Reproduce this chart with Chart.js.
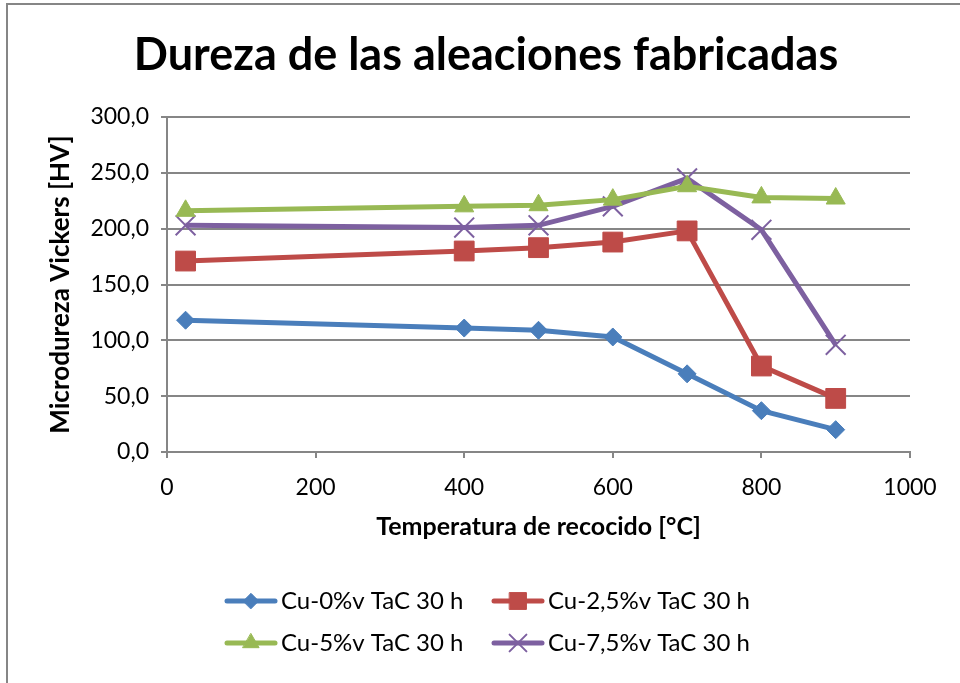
<!DOCTYPE html>
<html>
<head>
<meta charset="utf-8">
<script src="https://cdn.jsdelivr.net/npm/chart.js@4/dist/chart.umd.min.js"></script>
<style>
  html, body { margin: 0; padding: 0; background: #fff; }
  #wrap { width: 960px; height: 683px; position: relative; }
</style>
</head>
<body>
<div id="wrap"><canvas id="c"></canvas></div>
<script>
// Annealing temperatures [°C] and Vickers microhardness [HV] per alloy
const temps = [25, 400, 500, 600, 700, 800, 900];
const cu0   = [118, 111, 109, 103, 70, 37, 20];
const cu25  = [171, 180, 183, 188, 198, 77, 48];
const cu5   = [216, 220, 221, 226, 238, 228, 227];
const cu75  = [203, 201, 203, 220, 245, 199, 96];

const seriesNames = ['Cu-0%v TaC 30 h', 'Cu-2,5%v TaC 30 h', 'Cu-5%v TaC 30 h', 'Cu-7,5%v TaC 30 h'];
const xTicks = [0, 200, 400, 600, 800, 1000];
const yTicks = [0, 50, 100, 150, 200, 250, 300];

const FONT = 'Lato, "Open Sans", sans-serif';
const GRID = '#868686';

const styles = [
  { color: '#4A7EBB', pointStyle: 'rectRot',  radius: 9,  pw: 1 },
  { color: '#BE4B48', pointStyle: 'rect',     radius: 14, pw: 1 },
  { color: '#98B954', pointStyle: 'triangle', radius: 11, pw: 1 },
  { color: '#7D60A0', pointStyle: 'crossRot', radius: 14, pw: 2 }
];

const values = [cu0, cu25, cu5, cu75];
const datasets = values.map((vals, i) => ({
  label: seriesNames[i],
  data: temps.map((t, k) => ({ x: t, y: vals[k] })),
  showLine: true,
  borderColor: styles[i].color,
  backgroundColor: styles[i].color,
  borderWidth: 5,
  pointStyle: styles[i].pointStyle,
  pointRadius: styles[i].radius,
  pointHoverRadius: styles[i].radius,
  pointBorderWidth: styles[i].pw,
  pointBackgroundColor: styles[i].color,
  pointBorderColor: styles[i].color,
  tension: 0
}));

// Title, frame and two-row legend drawn on the canvas
const decor = {
  id: 'decor',
  afterDraw(chart) {
    const ctx = chart.ctx;
    ctx.save();
    // frame
    ctx.strokeStyle = GRID;
    ctx.lineWidth = 2;
    ctx.strokeRect(7, 4, 1000, 1000);
    // title
    ctx.fillStyle = '#000';
    ctx.font = 'bold 45px ' + FONT;
    ctx.textAlign = 'center';
    ctx.textBaseline = 'middle';
    ctx.fillText('Dureza de las aleaciones fabricadas', 486, 55);
    // legend
    const cols = [227, 494];
    const rows = [601, 643];
    ctx.font = '24px ' + FONT;
    ctx.textAlign = 'left';
    seriesNames.forEach((name, i) => {
      const x0 = cols[i % 2];
      const y = rows[Math.floor(i / 2)];
      const st = styles[i];
      ctx.strokeStyle = st.color;
      ctx.lineWidth = 5;
      ctx.lineCap = 'round';
      ctx.beginPath();
      ctx.moveTo(x0, y);
      ctx.lineTo(x0 + 48, y);
      ctx.stroke();
      ctx.fillStyle = st.color;
      ctx.strokeStyle = st.color;
      ctx.lineWidth = st.pw;
      Chart.helpers.drawPoint(ctx, { pointStyle: st.pointStyle, radius: st.radius * 0.85, borderWidth: st.pw, rotation: 0 }, x0 + 24, y);
      ctx.fillStyle = '#000';
      ctx.fillText(name, x0 + 54, y);
    });
    ctx.restore();
  }
};

new Chart(document.getElementById('c'), {
  type: 'scatter',
  data: { datasets },
  plugins: [decor],
  options: {
    responsive: true,
    maintainAspectRatio: false,
    animation: false,
    layout: { padding: { top: 117, left: 10, right: 50, bottom: 121 } },
    plugins: {
      legend: { display: false },
      title: { display: false },
      tooltip: { enabled: false }
    },
    scales: {
      x: {
        type: 'linear',
        min: 0, max: 1000,
        afterBuildTicks(scale) { scale.ticks = xTicks.map(v => ({ value: v })); },
        afterFit(scale) { scale.height = 110; },
        border: { color: GRID, width: 2 },
        grid: { drawOnChartArea: false, drawTicks: true, tickLength: 6, color: GRID, lineWidth: 2 },
        ticks: { color: '#000', font: { family: FONT, size: 23 }, padding: 16, maxRotation: 0,
                 callback: v => String(v) },
        title: { display: true, text: 'Temperatura de recocido [°C]', color: '#000',
                 font: { family: FONT, size: 25, weight: 'bold' }, padding: { top: 0, bottom: 20 } }
      },
      y: {
        type: 'linear',
        min: 0, max: 300,
        afterBuildTicks(scale) { scale.ticks = yTicks.map(v => ({ value: v })); },
        afterFit(scale) { scale.width = 157; },
        border: { color: GRID, width: 2 },
        grid: { color: GRID, lineWidth: 2, drawTicks: true, tickLength: 6 },
        ticks: { color: '#000', font: { family: FONT, size: 23 }, padding: 12,
                 callback: v => v.toFixed(1).replace('.', ',') },
        title: { display: true, text: 'Microdureza Vickers [HV]', color: '#000',
                 font: { family: FONT, size: 26, weight: 'bold' }, padding: { top: 35, bottom: 0 } }
      }
    }
  }
});
</script>
</body>
</html>
